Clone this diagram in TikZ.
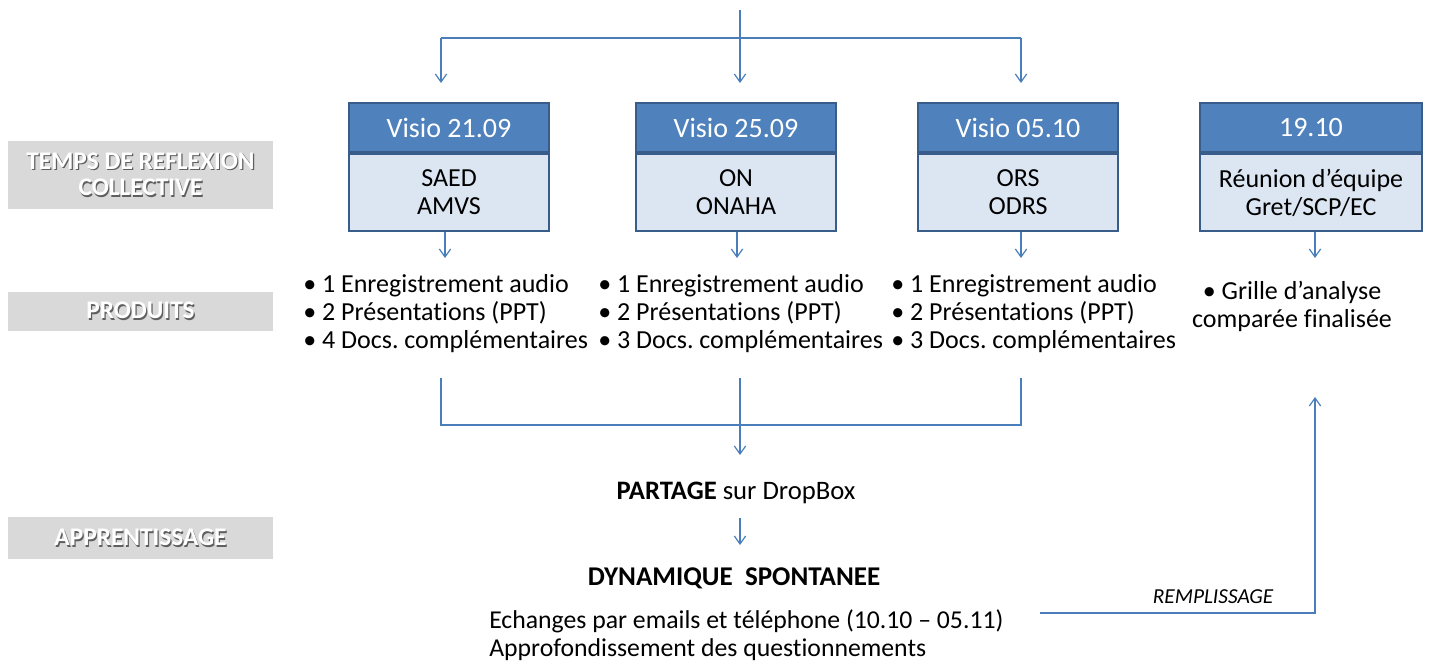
\documentclass[tikz,border=0pt]{standalone}
\usepackage{fontspec}
\setmainfont{Carlito}[Ligatures=NoCommon]
\usetikzlibrary{arrows.meta,calc}
\definecolor{hdr}{HTML}{4F81BD}
\definecolor{edgeblue}{HTML}{385D8A}
\definecolor{bodyfill}{HTML}{DCE6F2}
\definecolor{conn}{HTML}{4A7EBB}
\definecolor{lblgray}{HTML}{D9D9D9}
\definecolor{shadowgray}{HTML}{5F5F5F}
\newcommand{\shtext}[1]{\rlap{\kern0.9pt\raisebox{-1.2pt}{\textcolor{shadowgray}{#1}}}\textcolor{white}{#1}}
\frenchspacing
\begin{document}
\begin{tikzpicture}[x=0.75pt,y=-0.75pt,
  hdrbox/.style={draw=edgeblue, line width=1.5pt, fill=hdr, text=white,
    minimum width=150pt, minimum height=36.75pt, inner sep=0pt, anchor=north,
    font=\fontsize{21}{25}\selectfont},
  bodybox/.style={draw=edgeblue, line width=1.5pt, fill=bodyfill, text=black,
    minimum width=150pt, minimum height=57.75pt, inner sep=0pt, anchor=north,
    align=center, font=\fontsize{19.5}{21}\selectfont},
  prod/.style={anchor=north west, inner sep=0pt, align=left,
    font=\fontsize{19.5}{21}\selectfont},
  lblbox/.style={fill=lblgray, minimum width=198.75pt, inner sep=0pt, align=center,
    font=\fontsize{19}{20}\selectfont\bfseries},
  cline/.style={draw=conn, line width=0.9pt},
  tip/.style={-{Straight Barb[length=6pt,width=8.5pt,line width=0.9pt]}}
]
\useasboundingbox (0,0) rectangle (1430,666);

% left labels
\node[lblbox, minimum height=51pt] (l1) at (140.5,175) {\shtext{TEMPS DE REFLEXION}\\\shtext{COLLECTIVE}};
\node[lblbox, minimum height=29.25pt] (l2) at (140.5,311.5) {\shtext{PRODUITS}};
\node[lblbox, minimum height=31.5pt] (l3) at (140.5,538) {\shtext{APPRENTISSAGE}};

% boxes
\node[hdrbox] (h1) at (449,102) {Visio 21.09};
\node[bodybox] (b1) at (h1.south) {SAED\\AMVS};
\node[hdrbox] (h2) at (736,102) {Visio 25.09};
\node[bodybox] (b2) at (h2.south) {ON\\ONAHA};
\node[hdrbox] (h3) at (1018,102) {Visio 05.10};
\node[bodybox] (b3) at (h3.south) {ORS\\ODRS};
\node[hdrbox, minimum width=166.5pt] (h4) at (1311,102) {19.10};
\node[bodybox, minimum width=166.5pt] (b4) at (h4.south) {Réunion d’équipe\\Gret/SCP/EC};

% top distribution
\coordinate (top) at (740,10);
\coordinate (s1) at (441,38);
\coordinate (s3) at (1021,38);
\coordinate (a1) at (441,83);
\coordinate (a2) at (740,83);
\coordinate (a3) at (1021,83);
\draw[cline] (s1) -- (s3);
\draw[cline,tip] (top) -- (a2);
\draw[cline,tip] (s1) -- (a1);
\draw[cline,tip] (s3) -- (a3);

% products
\node[prod] (p1) at (303,274) {• 1 Enregistrement audio\\• 2 Présentations (PPT)\\• 4 Docs. complémentaires};
\node[prod] (p2) at (598,274) {• 1 Enregistrement audio\\• 2 Présentations (PPT)\\• 3 Docs. complémentaires};
\node[prod] (p3) at (891,274) {• 1 Enregistrement audio\\• 2 Présentations (PPT)\\• 3 Docs. complémentaires};
\node[prod, anchor=north, align=center] (p4) at (1292,281) {• Grille d’analyse\\comparée finalisée};

\coordinate (d1) at (445,258);
\coordinate (d2) at (737,258);
\coordinate (d3) at (1021,258);
\coordinate (d4) at (1315,258);
\draw[cline,tip] (b1.south -| d1) -- (d1);
\draw[cline,tip] (b2.south -| d2) -- (d2);
\draw[cline,tip] (b3.south -| d3) -- (d3);
\draw[cline,tip] (b4.south -| d4) -- (d4);

% bracket
\coordinate (c1) at (441,378);
\coordinate (c2) at (740,378);
\coordinate (c3) at (1021,378);
\coordinate (m3) at (1021,425);
\coordinate (e2) at (740,455);
\draw[cline] (c1) |- (m3) -- (c3);
\draw[cline,tip] (c2) -- (e2);

% sharing / learning
\node[inner sep=0pt, font=\fontsize{20}{22}\selectfont] (part) at (736,493) {\textbf{PARTAGE} sur DropBox};
\node[inner sep=0pt, font=\fontsize{20.3}{22}\selectfont\bfseries] (dyn) at (734,578) {DYNAMIQUE\ \ SPONTANEE};
\coordinate (f1) at (740,518);
\coordinate (f2) at (740,545);
\draw[cline,tip] (f1) -- (f2);

\node[prod, font=\fontsize{19.3}{21}\selectfont] (ech) at (489,609) {Echanges par emails et téléphone (10.10 – 05.11)\\Approfondissement des questionnements};

% remplissage
\coordinate (r0) at (1040,613);
\coordinate (r1) at (1315,397);
\draw[cline,tip] (r0) -| (r1);
\node[inner sep=0pt, font=\fontsize{16}{18}\selectfont\itshape] (rem) at (1213,597) {REMPLISSAGE};
\end{tikzpicture}
\end{document}
